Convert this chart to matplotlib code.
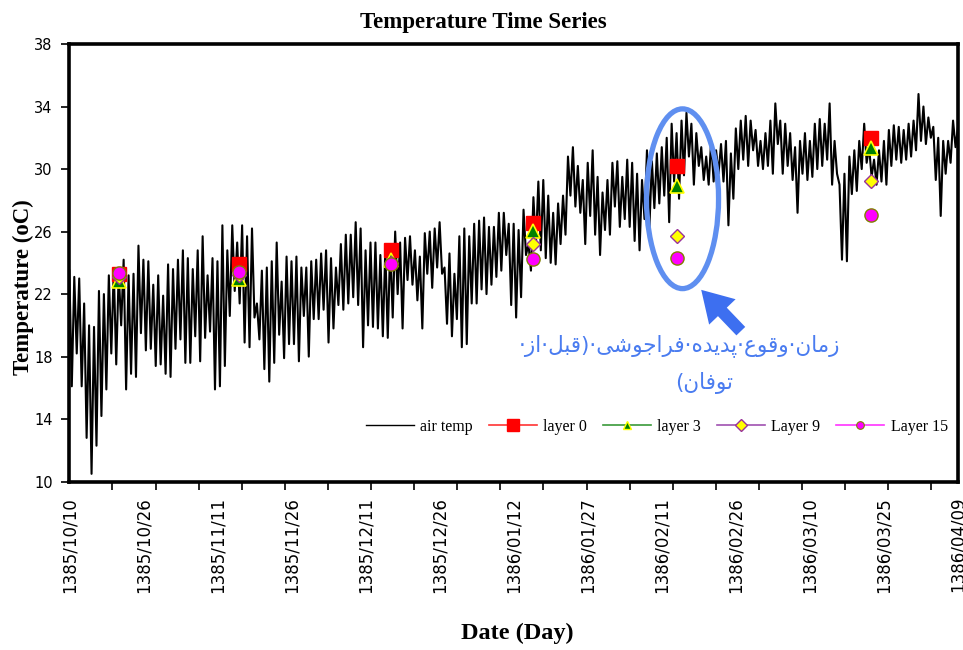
import numpy as np
import matplotlib
matplotlib.use("Agg")
import matplotlib.pyplot as plt
from matplotlib.patches import Ellipse
from matplotlib.lines import Line2D

# Daily maximum / minimum air temperature (oC), one value per day from 1385/10/10
air_max = [
    23.5, 23.1, 23.0, 21.4, 20.0, 19.9, 22.2, 22.0, 23.2, 23.6,
    23.4, 24.2, 23.2, 23.3, 25.1, 24.2, 24.1, 22.6, 23.2, 21.9,
    23.9, 23.6, 24.2, 24.8, 24.3, 23.6, 24.8, 25.7, 23.2, 24.3,
    24.1, 26.4, 24.8, 26.4, 25.3, 26.4, 25.7, 26.2, 21.4, 23.5,
    23.7, 24.1, 25.3, 22.8, 24.4, 24.1, 24.4, 23.7, 23.7, 24.1,
    24.2, 24.6, 24.8, 24.3, 23.7, 25.2, 25.8, 25.8, 26.6, 26.2,
    24.8, 25.3, 25.3, 24.5, 24.8, 25.2, 26.0, 25.3, 25.6, 25.7,
    24.8, 24.4, 25.9, 26.0, 26.2, 26.6, 23.7, 24.6, 23.3, 25.7,
    26.2, 25.7, 26.5, 26.7, 26.9, 26.3, 26.3, 27.2, 27.2, 26.5,
    26.5, 26.1, 27.4, 25.2, 28.2, 29.2, 29.3, 28.3, 27.2, 27.8,
    28.3, 30.8, 31.4, 30.2, 29.3, 30.4, 31.2, 29.5, 28.5, 29.3,
    30.4, 30.5, 29.5, 30.6, 30.4, 29.7, 29.3, 31.2, 30.5, 31.0,
    31.4, 32.0, 32.9, 32.3, 33.1, 33.6, 32.9, 32.3, 31.4, 30.8,
    31.8, 31.2, 31.6, 31.8, 31.0, 32.6, 33.1, 33.4, 33.1, 32.5,
    31.8, 32.3, 33.1, 34.2, 33.1, 32.9, 32.3, 31.4, 31.8, 32.3,
    31.8, 32.9, 33.2, 32.9, 34.2, 31.8, 29.0, 29.7, 30.8, 31.2,
    31.8, 32.9, 31.4, 30.6, 31.2, 31.8, 32.5, 32.8, 32.7, 32.5,
    32.9, 33.1, 34.8, 34.0, 33.3, 32.7, 32.0, 31.8, 31.8, 33.1,
    32.7,
]
air_min = [
    16.1, 18.2, 16.1, 12.8, 10.5, 12.3, 14.2, 15.9, 18.2, 17.5,
    20.0, 15.9, 16.9, 16.7, 19.5, 18.4, 18.5, 17.4, 17.5, 16.9,
    16.7, 18.5, 19.1, 17.6, 17.6, 19.3, 17.7, 19.2, 19.6, 15.9,
    16.1, 17.4, 20.6, 22.2, 21.4, 18.9, 18.6, 20.5, 19.1, 17.2,
    16.4, 17.6, 19.4, 17.9, 18.8, 18.8, 17.7, 20.6, 18.0, 20.4,
    20.4, 21.0, 18.9, 19.8, 21.3, 21.0, 21.4, 21.8, 21.3, 18.6,
    20.0, 19.9, 19.8, 19.3, 19.2, 20.5, 22.0, 19.8, 22.9, 22.6,
    21.6, 19.8, 23.3, 22.4, 23.7, 23.3, 20.1, 19.3, 20.4, 18.6,
    18.8, 21.4, 21.4, 22.3, 22.0, 22.6, 23.1, 23.5, 24.5, 21.3,
    20.5, 21.8, 24.5, 23.5, 25.1, 24.8, 24.3, 24.0, 23.9, 25.2,
    25.8, 28.3, 27.6, 27.2, 25.2, 27.0, 25.8, 24.5, 26.1, 25.8,
    27.6, 26.3, 26.8, 26.3, 25.4, 24.8, 26.8, 26.3, 27.5, 27.8,
    28.3, 26.6, 29.2, 28.1, 29.6, 30.8, 29.0, 30.2, 29.3, 29.0,
    29.2, 29.7, 29.2, 26.4, 28.1, 30.0, 30.6, 30.2, 31.2, 30.2,
    30.0, 30.2, 29.7, 31.6, 29.7, 30.2, 29.3, 27.2, 29.7, 29.3,
    29.5, 30.0, 30.2, 30.6, 29.0, 29.7, 24.2, 24.1, 28.4, 28.6,
    30.0, 30.4, 29.5, 29.0, 29.2, 29.0, 30.2, 30.6, 30.4, 30.6,
    30.8, 31.2, 31.8, 31.6, 32.0, 29.3, 27.0, 29.7, 30.4, 31.4,
    31.2,
]

# Sampling days (days after 1385/10/10) and water temperatures per layer
sample_day = [10.1, 34.4, 65.1, 93.9, 123.0, 162.4]
layer0 = [23.3, 23.9, 24.85, 26.55, 30.2, 32.0]
layer3 = [22.85, 22.95, 24.15, 26.05, 28.9, 31.35]
layer9 = [23.1, 23.2, 24.0, 25.2, 25.7, 29.25]
layer15 = [23.35, 23.4, 23.95, 24.25, 24.3, 27.05]

tick_days = [0, 15, 30, 45, 60, 75, 90, 105, 120, 135, 150, 165, 180]
tick_labels = [
    "1385/10/10", "1385/10/26", "1385/11/11", "1385/11/26", "1385/12/11",
    "1385/12/26", "1386/01/12", "1386/01/27", "1386/02/11", "1386/02/26",
    "1386/03/10", "1386/03/25", "1386/04/09",
]
y_ticks = [10, 14, 18, 22, 26, 30, 34, 38]

# Persian note, laid out in visual (left-to-right) order with contextual forms
note_line1 = ("\u00b7\uFEAF\uFE8D\u00b7\uFEDE\uFE92\uFED7)\u00b7"
              "\uFBFD\uFEB7\uFEEE\uFE9F\uFE8D\uFEAE\uFED3\u00b7"
              "\uFEE9\uFEAA\uFBFE\uFEAA\uFB58\u00b7"
              "\uFEC9\uFEEE\uFED7\uFEED\u00b7"
              "\uFEE5\uFE8E\uFEE3\uFEAF")
note_line2 = "(\uFEE5\uFE8E\uFED3\uFEEE\uFE97"

SERIF = "Liberation Serif"

fig = plt.figure(figsize=(9.63, 6.5), dpi=100)
ax = fig.add_axes([0.072, 0.259, 0.9228, 0.6733])

# air temperature: alternate daily max / min
n = len(air_max)
days = np.arange(n)
t = np.empty(2 * n)
temp = np.empty(2 * n)
t[0::2] = days
t[1::2] = days + 0.5
temp[0::2] = air_max
temp[1::2] = air_min
ax.plot(t, temp, color="black", lw=1.5, zorder=2)

# layer observations
ax.plot(sample_day, layer0, ls="none", marker="s", ms=9.5,
        mfc="#ff0000", mec="#ff0000", zorder=3)
ax.plot(sample_day, layer3, ls="none", marker="^", ms=10,
        mfc="#008000", mec="#ffff00", mew=1.2, zorder=4)
ax.plot(sample_day, layer9, ls="none", marker="D", ms=7,
        mfc="#ffff00", mec="#993399", mew=1.0, zorder=5)
ax.plot(sample_day, layer15, ls="none", marker="o", ms=9.5,
        mfc="#ff00ff", mec="#808000", mew=1.0, zorder=6)

ax.set_xlim(0, 180)
ax.set_ylim(10, 38)
ax.set_yticks(y_ticks)
ax.set_yticklabels([str(v) for v in y_ticks], fontsize=10.5,
                   family="DejaVu Sans")
ax.set_xticks(tick_days)
ax.set_xticklabels(tick_labels, rotation=90, fontsize=12,
                   family="DejaVu Sans")
ax.set_xticks(np.arange(0, 181, 8.73), minor=True)
ax.tick_params(axis="x", which="major", length=0, pad=11)
ax.tick_params(axis="x", which="minor", length=6, width=1.2,
               direction="out", color="black")
ax.tick_params(axis="y", which="major", length=6, width=1.2,
               direction="out", pad=6)
for s in ax.spines.values():
    s.set_linewidth(2.6)
    s.set_color("black")

fig.text(0.024, 0.558, "Temperature (oC)", family=SERIF, fontweight="bold",
         fontsize=16.5, rotation=90, ha="center", va="center")
fig.text(0.537, 0.026, "Date (Day)", family=SERIF, fontweight="bold",
         fontsize=17.5, ha="center", va="center")
fig.text(0.502, 0.966, "Temperature Time Series", family=SERIF,
         fontweight="bold", fontsize=16.5, ha="center", va="center")

# legend
handles = [
    Line2D([], [], color="black", lw=1.0),
    Line2D([], [], color="#ff3333", lw=1.2, marker="s", ms=8,
           mfc="#ff0000", mec="#ff0000"),
    Line2D([], [], color="#3a9a3a", lw=1.2, marker="^", ms=6,
           mfc="#008000", mec="#ffff00", mew=1.0),
    Line2D([], [], color="#a050b0", lw=1.2, marker="D", ms=6,
           mfc="#ffff00", mec="#993399", mew=1.0),
    Line2D([], [], color="#ff33ff", lw=1.2, marker="o", ms=5.5,
           mfc="#ff00ff", mec="#808000", mew=0.8),
]
labels = ["air temp", "layer 0", "layer 3", "Layer 9", "Layer 15"]
fig.legend(handles, labels, loc="center", ncol=5, frameon=False,
           bbox_to_anchor=(0.682, 0.343), handlelength=3.0,
           handletextpad=0.4, columnspacing=1.0,
           prop={"family": SERIF, "size": 11.5})

# highlight of the pre-storm upwelling period
blue = "#5f8ff0"
ax.add_patch(Ellipse((124.2, 28.1), 14.6, 11.5, fill=False,
                     edgecolor=blue, lw=3.8, zorder=7))
ax.annotate("", xy=(127.6, 22.4), xytext=(136.4, 19.5),
            arrowprops=dict(arrowstyle="simple,head_length=1.0,head_width=1.2,tail_width=0.4",
                            color="#3d6ff0", mutation_scale=22, lw=0),
            zorder=7)
ax.text(0.687, 0.312, note_line1, transform=ax.transAxes, ha="center",
        va="center", fontsize=15.5, color="#4a7cf0", family="DejaVu Sans")
ax.text(0.714, 0.2255, note_line2, transform=ax.transAxes, ha="center",
        va="center", fontsize=15.5, color="#4a7cf0", family="DejaVu Sans")

fig.savefig("out.png", dpi=100)
